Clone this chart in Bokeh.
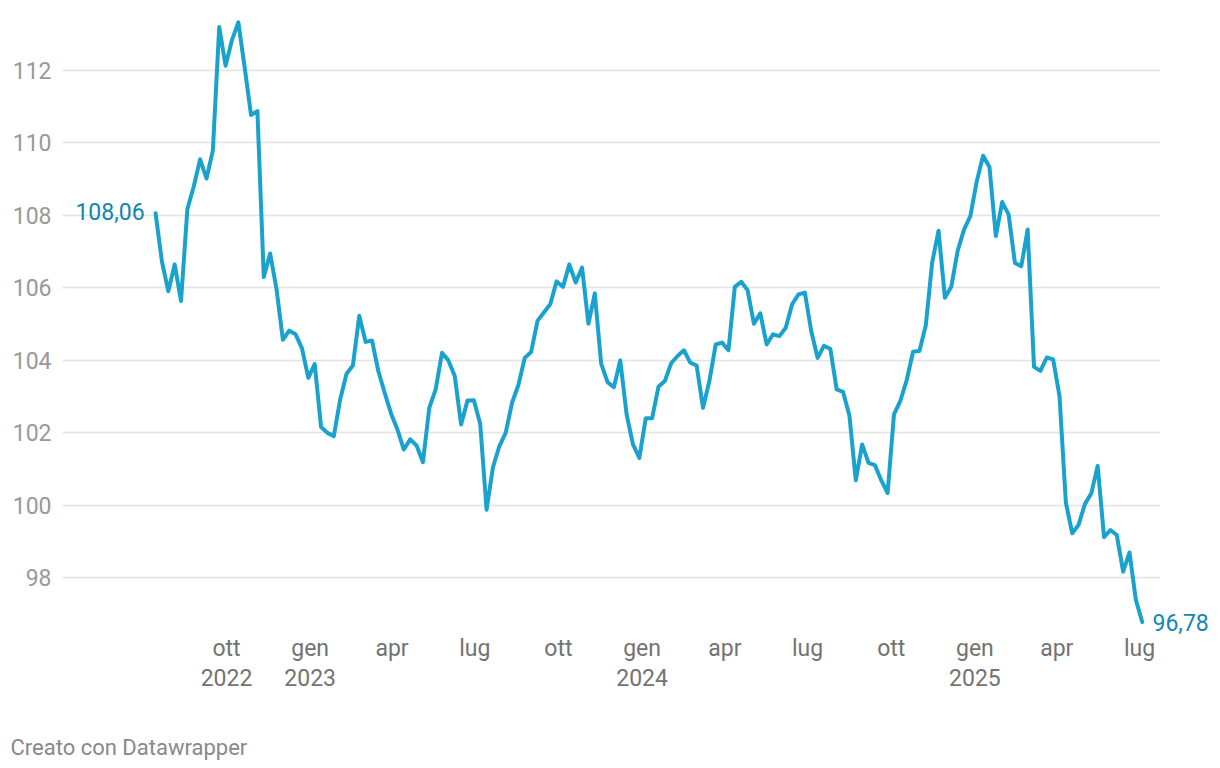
import pandas as pd
from bokeh.plotting import figure
from bokeh.models import Range1d, FixedTicker, Label, ColumnDataSource, LinearAxis, Title
from bokeh.embed import file_html
from bokeh.resources import INLINE

# weekly observations
start_date = "2022-07-15"
values = [
    108.06, 106.73, 105.91, 106.65, 105.64, 108.18, 108.80, 109.55, 109.02, 109.79,
    113.20, 112.13, 112.84, 113.33, 112.08, 110.77, 110.88, 106.30, 106.95, 105.97,
    104.57, 104.82, 104.72, 104.33, 103.52, 103.90, 102.16, 102.00, 101.91, 102.92,
    103.63, 103.86, 105.23, 104.51, 104.55, 103.70, 103.10, 102.53, 102.09, 101.54,
    101.82, 101.65, 101.19, 102.69, 103.20, 104.21, 104.00, 103.57, 102.23, 102.89,
    102.90, 102.25, 99.88, 101.05, 101.63, 102.00, 102.83, 103.32, 104.07, 104.23,
    105.09, 105.32, 105.55, 106.18, 106.03, 106.65, 106.15, 106.56, 105.01, 105.85,
    103.91, 103.40, 103.26, 104.00, 102.51, 101.68, 101.31, 102.40, 102.40, 103.27,
    103.43, 103.92, 104.12, 104.28, 103.94, 103.86, 102.69, 103.43, 104.44, 104.49,
    104.28, 106.03, 106.17, 105.94, 105.01, 105.30, 104.44, 104.72, 104.67, 104.90,
    105.55, 105.82, 105.87, 104.81, 104.07, 104.40, 104.32, 103.20, 103.13, 102.48,
    100.69, 101.68, 101.17, 101.11, 100.69, 100.34, 102.51, 102.88, 103.46, 104.24,
    104.26, 104.97, 106.70, 107.58, 105.73, 106.03, 107.02, 107.61, 107.98, 108.94,
    109.65, 109.34, 107.43, 108.37, 108.03, 106.69, 106.60, 107.61, 103.82, 103.71,
    104.08, 104.03, 103.02, 100.08, 99.23, 99.46, 100.04, 100.33, 101.09, 99.12,
    99.32, 99.18, 98.17, 98.70, 97.39, 96.78,
]
first_label = "108,06"
last_label = "96,78"

tick_dates = ["2022-10-01", "2023-01-01", "2023-04-01", "2023-07-01", "2023-10-01",
              "2024-01-01", "2024-04-01", "2024-07-01", "2024-10-01", "2025-01-01",
              "2025-04-01", "2025-07-01"]
tick_labels = ["ott\n2022", "gen\n2023", "apr", "lug", "ott", "gen\n2024", "apr",
               "lug", "ott", "gen\n2025", "apr", "lug"]
y_ticks = [98, 100, 102, 104, 106, 108, 110, 112]
credit = "Creato con Datawrapper"

LINE = "#1aa2cf"
LABEL = "#1187b0"
FONT = "Roboto"

dates = pd.date_range(start_date, periods=len(values), freq="7D")
x_ms = [float(pd.Timestamp(d).value // 10**6) for d in dates]
tick_ms = [int(pd.Timestamp(d).value // 10**6) for d in tick_dates]

src = ColumnDataSource(data=dict(x=x_ms, y=values))

x0 = int(pd.Timestamp("2022-04-03T16:00").value // 10**6)
x1 = int(pd.Timestamp("2025-07-24T02:00").value // 10**6)

p = figure(width=1215, height=765, output_backend="svg", toolbar_location=None,
           x_range=Range1d(x0, x1), y_range=Range1d(96.546, 113.656),
           min_border_left=62, min_border_right=55, min_border_top=10, min_border_bottom=135)
p.outline_line_color = None
p.background_fill_color = "white"
p.border_fill_color = "white"

p.xgrid.grid_line_color = None
p.yaxis.ticker = FixedTicker(ticks=y_ticks)
p.ygrid.grid_line_color = "#e2e2e2"
p.ygrid.grid_line_width = 1.5

for ax in (p.xaxis[0], p.yaxis[0]):
    ax.axis_line_color = None
    ax.major_tick_line_color = None
    ax.minor_tick_line_color = None
    ax.major_tick_out = 0
    ax.major_tick_in = 0
    ax.major_label_text_font = FONT
    ax.major_label_text_font_size = "23px"

p.yaxis.major_label_text_color = "#999999"
p.yaxis.major_label_standoff = 11

p.xaxis.ticker = FixedTicker(ticks=tick_ms)
p.xaxis.major_label_overrides = {t: l for t, l in zip(tick_ms, tick_labels)}
p.xaxis.major_label_text_color = "#737373"
p.xaxis.major_label_text_line_height = 1.12
p.xaxis.major_label_standoff = 4
# blank axis label: only reserves room between the dates and the credit line
p.xaxis.axis_label = " "
p.xaxis.axis_label_standoff = 10
p.xaxis.axis_label_text_font = FONT
p.xaxis.axis_label_text_font_size = "22px"

# end-value label on the right side, at the last value
end_axis = LinearAxis(ticker=FixedTicker(ticks=[values[-1]]),
                      major_label_overrides={values[-1]: last_label})
end_axis.axis_line_color = None
end_axis.major_tick_line_color = None
end_axis.minor_tick_line_color = None
end_axis.major_tick_out = 0
end_axis.major_tick_in = 0
end_axis.major_label_standoff = -8
end_axis.major_label_text_font = FONT
end_axis.major_label_text_font_size = "23px"
end_axis.major_label_text_color = LABEL
p.add_layout(end_axis, "right")

p.line("x", "y", source=src, line_color=LINE, line_width=4, line_join="round", line_cap="round")

p.add_layout(Label(x=x_ms[0], y=values[0], text=first_label, x_offset=-11, y_offset=2,
                   text_align="right", text_baseline="middle", text_font=FONT,
                   text_font_size="23px", text_color=LABEL))

p.add_layout(Title(text=credit, align="left", offset=-52, standoff=0,
                   text_font=FONT, text_font_size="22px", text_font_style="normal",
                   text_color="#888888"), "below")

open("out.html", "w").write(file_html(p, INLINE))
